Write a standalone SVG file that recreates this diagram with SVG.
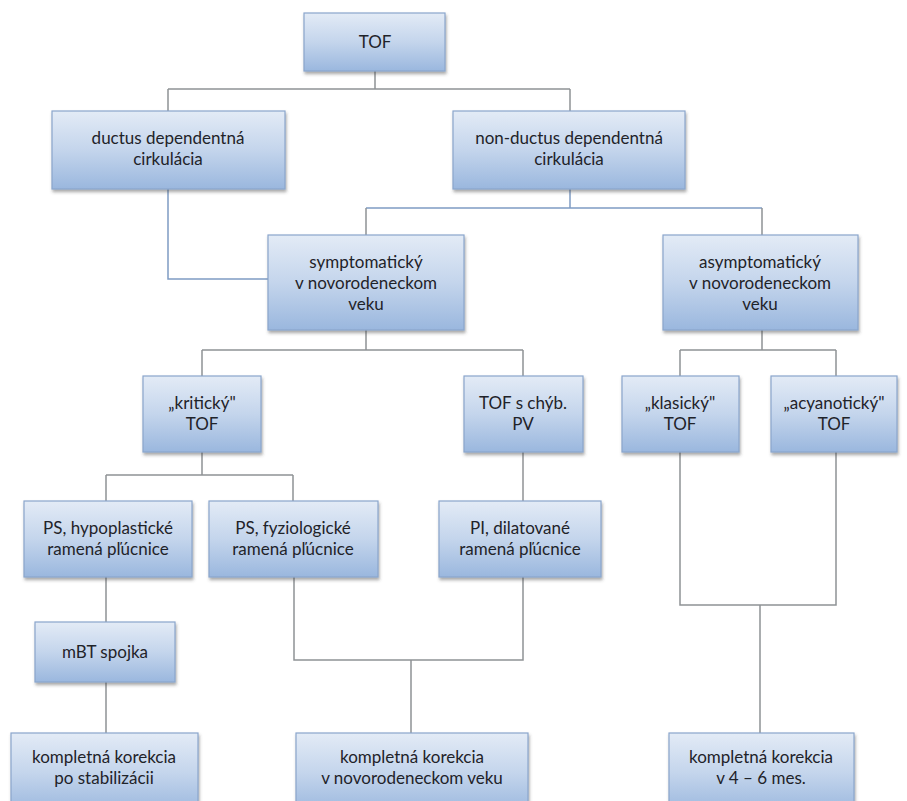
<svg xmlns="http://www.w3.org/2000/svg" width="907" height="801" viewBox="0 0 907 801">
<defs>
<linearGradient id="g" x1="0" y1="0" x2="0" y2="1">
<stop offset="0" stop-color="#e3ebf6"/>
<stop offset="0.5" stop-color="#c4d5ec"/>
<stop offset="1" stop-color="#9ab7de"/>
</linearGradient>
<filter id="sh" x="-10%" y="-10%" width="125%" height="130%">
<feDropShadow dx="1" dy="2.5" stdDeviation="1.6" flood-color="#404040" flood-opacity="0.45"/>
</filter>
</defs>
<style>
.box{fill:url(#g);stroke:#8aa6cc;stroke-width:1.2;filter:url(#sh)}
.t{font-family:Lato,"Noto Sans","Liberation Sans",sans-serif;font-size:17px;fill:#1f2329;text-anchor:middle}
.c{fill:none;stroke:#8f9295;stroke-width:1.5}
.cb{fill:none;stroke:#7f9cc4;stroke-width:1.5}
</style>
<rect width="907" height="801" fill="#ffffff"/>
<g id="connectors">
<path class="c" d="M375,71 V89 M168,89 H570 M168,89 V111 M570,89 V111"/>
<path class="cb" d="M168,189 V279 H268"/>
<path class="cb" d="M570,189 V208 M366,208 H762"/>
<path class="c" d="M366,208 V235 M762,208 V235"/>
<path class="c" d="M366,330 V350 M202,350 H523 M202,350 V376 M523,350 V376"/>
<path class="c" d="M762,330 V350 M680,350 H836 M680,350 V376 M836,350 V376"/>
<path class="c" d="M202,452 V475 M106,475 H293 M106,475 V501 M293,475 V501"/>
<path class="c" d="M523,452 V501"/>
<path class="c" d="M106,577 V622 M106,682 V733"/>
<path class="c" d="M294,577 V660 H523 V577 M411,660 V733"/>
<path class="c" d="M680,452 V605 H836 V452 M760,605 V733"/>
</g>
<g id="n-tof"><rect class="box" x="304" y="13" width="141" height="58"/><text class="t" x="375" y="48">TOF</text></g>
<g id="n-ductus"><rect class="box" x="52" y="111" width="233" height="78"/><text class="t" x="168" y="144">ductus dependentná</text><text class="t" x="168" y="165">cirkulácia</text></g>
<g id="n-nonductus"><rect class="box" x="453" y="111" width="232" height="78"/><text class="t" x="569" y="144">non-ductus dependentná</text><text class="t" x="569" y="165">cirkulácia</text></g>
<g id="n-sympt"><rect class="box" x="268" y="235" width="196" height="95"/><text class="t" x="366" y="268">symptomatický</text><text class="t" x="366" y="289">v novorodeneckom</text><text class="t" x="366" y="310">veku</text></g>
<g id="n-asympt"><rect class="box" x="663" y="235" width="195" height="95"/><text class="t" x="760" y="268">asymptomatický</text><text class="t" x="760" y="289">v novorodeneckom</text><text class="t" x="760" y="310">veku</text></g>
<g id="n-kriticky"><rect class="box" x="143" y="376" width="118" height="76"/><text class="t" x="202" y="409">„kritický"</text><text class="t" x="202" y="430">TOF</text></g>
<g id="n-chyb"><rect class="box" x="464" y="376" width="119" height="76"/><text class="t" x="523" y="409">TOF s chýb.</text><text class="t" x="523" y="430">PV</text></g>
<g id="n-klasicky"><rect class="box" x="622" y="376" width="117" height="76"/><text class="t" x="680" y="409">„klasický"</text><text class="t" x="680" y="430">TOF</text></g>
<g id="n-acyan"><rect class="box" x="771" y="376" width="126" height="76"/><text class="t" x="834" y="409">„acyanotický"</text><text class="t" x="834" y="430">TOF</text></g>
<g id="n-pshypo"><rect class="box" x="24" y="501" width="168" height="76"/><text class="t" x="108" y="534">PS, hypoplastické</text><text class="t" x="108" y="555">ramená pľúcnice</text></g>
<g id="n-psfyz"><rect class="box" x="209" y="501" width="169" height="76"/><text class="t" x="293" y="534">PS, fyziologické</text><text class="t" x="293" y="555">ramená pľúcnice</text></g>
<g id="n-pi"><rect class="box" x="439" y="501" width="162" height="76"/><text class="t" x="520" y="534">PI, dilatované</text><text class="t" x="520" y="555">ramená pľúcnice</text></g>
<g id="n-mbt"><rect class="box" x="35" y="622" width="140" height="60"/><text class="t" x="105" y="658">mBT spojka</text></g>
<g id="n-k1"><rect class="box" x="11" y="733" width="187" height="80"/><text class="t" x="104" y="763">kompletná korekcia</text><text class="t" x="104" y="784">po stabilizácii</text></g>
<g id="n-k2"><rect class="box" x="296" y="733" width="232" height="80"/><text class="t" x="412" y="763">kompletná korekcia</text><text class="t" x="412" y="784">v novorodeneckom veku</text></g>
<g id="n-k3"><rect class="box" x="669" y="733" width="185" height="80"/><text class="t" x="761" y="763">kompletná korekcia</text><text class="t" x="761" y="784">v 4 – 6 mes.</text></g>
</svg>
